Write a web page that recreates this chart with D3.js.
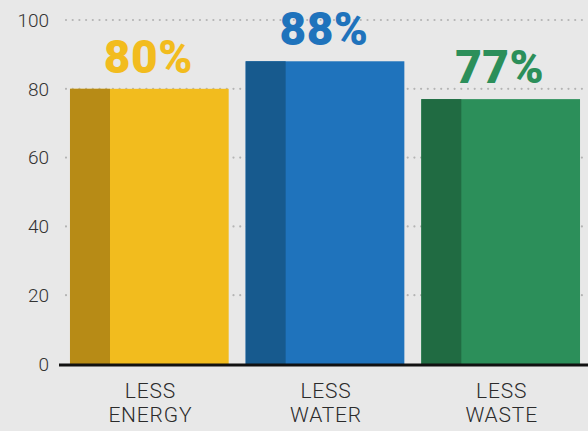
<!DOCTYPE html>
<html>
<head>
<meta charset="utf-8">
<script src="https://cdn.jsdelivr.net/npm/d3@7"></script>
<style>
  body { margin: 0; background: #e8e8e8; }
  svg { display: block; }
</style>
</head>
<body>
<div id="viz"></div>
<script>
var categories = [["LESS", "ENERGY"], ["LESS", "WATER"], ["LESS", "WASTE"]];
var values     = [80, 88, 77];
var mainColors = ["#f2bc1e", "#1f73bc", "#2c8f5a"];
var darkColors = ["#b78b16", "#175a8e", "#206b42"];
var yTicks     = [0, 20, 40, 60, 80, 100];

var W = 588, H = 431;
var baseY = 364, topY = 20;

var svg = d3.select("#viz")
    .append("svg")
    .attr("width", W)
    .attr("height", H);

svg.append("rect").attr("width", W).attr("height", H).attr("fill", "#e8e8e8");

var y = d3.scaleLinear().domain([0, 100]).range([baseY, topY]);
var x = d3.scaleBand()
    .domain(d3.range(values.length))
    .range([61, 61 + 176 * 3])
    .paddingInner(17 / 176)
    .paddingOuter(9 / 176);

// dotted grid
svg.selectAll("line.grid")
    .data(yTicks.filter(function(d) { return d > 0; }))
    .enter()
    .append("line")
    .attr("class", "grid")
    .attr("x1", 66).attr("x2", W)
    .attr("y1", function(d) { return y(d); })
    .attr("y2", function(d) { return y(d); })
    .style("stroke", "#b4b4b4")
    .style("stroke-width", 2.2)
    .style("stroke-linecap", "round")
    .style("stroke-dasharray", "0 6.7");

// y labels
svg.selectAll("text.ytick")
    .data(yTicks)
    .enter()
    .append("text")
    .attr("class", "ytick")
    .attr("x", 49)
    .attr("y", function(d) { return y(d); })
    .attr("dy", "0.36em")
    .attr("text-anchor", "end")
    .style("font-family", "Roboto")
    .style("font-weight", 300)
    .style("font-size", "19px")
    .style("fill", "#333")
    .text(function(d) { return d; });

var bars = svg.selectAll("g.bar")
    .data(values)
    .enter()
    .append("g")
    .attr("class", "bar");

bars.append("rect")
    .attr("x", function(d, i) { return x(i); })
    .attr("y", function(d) { return y(d); })
    .attr("width", x.bandwidth())
    .attr("height", function(d) { return baseY - y(d); })
    .style("fill", function(d, i) { return mainColors[i]; });

bars.append("rect")
    .attr("x", function(d, i) { return x(i); })
    .attr("y", function(d) { return y(d); })
    .attr("width", 40)
    .attr("height", function(d) { return baseY - y(d); })
    .style("fill", function(d, i) { return darkColors[i]; });

bars.append("text")
    .attr("x", function(d, i) { return x(i) + x.bandwidth() / 2 - 1; })
    .attr("y", function(d) { return y(d) - 16; })
    .attr("text-anchor", "middle")
    .style("font-family", "Roboto")
    .style("font-weight", 900)
    .style("font-size", "46px")
    .style("letter-spacing", "0.5px")
    .style("fill", function(d, i) { return mainColors[i]; })
    .text(function(d) { return d + "%"; });

// category labels
bars.each(function(d, i) {
  var t = d3.select(this).append("text")
      .attr("text-anchor", "middle")
      .style("font-family", "Roboto")
      .style("font-weight", 300)
      .style("font-size", "21px")
      .style("letter-spacing", "0.8px")
      .style("fill", "#2b2b2b");
  categories[i].forEach(function(line, k) {
    t.append("tspan")
      .attr("x", x(i) + x.bandwidth() / 2 + 1)
      .attr("y", 398 + k * 24)
      .text(line);
  });
});

// baseline
svg.append("line")
    .attr("x1", 59).attr("x2", W)
    .attr("y1", baseY + 1).attr("y2", baseY + 1)
    .style("stroke", "#111")
    .style("stroke-width", 3);
</script>
</body>
</html>
